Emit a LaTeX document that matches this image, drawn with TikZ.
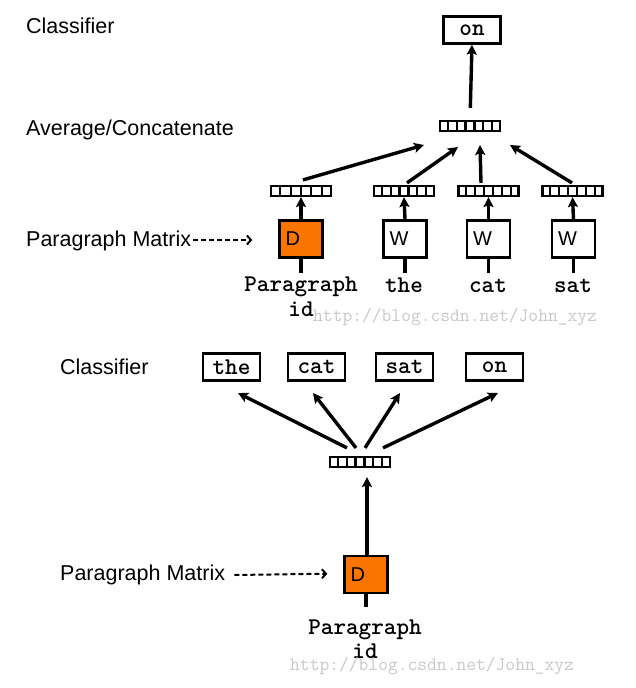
\documentclass[tikz,border=0pt]{standalone}
\usepackage{fontspec}
\setmainfont{Liberation Sans}
\usetikzlibrary{arrows.meta,calc}
\definecolor{dorange}{RGB}{250,116,0}
\definecolor{wmgray}{RGB}{200,200,200}
% vertical dividers inside a vector node: \celldiv{node}{dividers}{cells}
\newcommand\celldiv[3]{%
  \foreach \k in {1,...,#2}{%
    \draw[line width=2.2pt] ($(#1.south west)!\k/#3!(#1.south east)$) -- ($(#1.north west)!\k/#3!(#1.north east)$);}}
\begin{document}
\begin{tikzpicture}[x=1pt,y=-1pt,
  lbl/.style={font=\fontsize{21.5}{24}\selectfont, anchor=base west, inner sep=0},
  word/.style={font=\ttfamily\bfseries\fontsize{24}{26}\selectfont, inner sep=0, anchor=base},
  wordbox/.style={draw, line width=2.4pt, minimum width=57pt, minimum height=27pt, inner sep=0,
    font=\ttfamily\bfseries\fontsize{24}{26}\selectfont},
  mat/.style={draw, line width=2.4pt, minimum width=43pt, minimum height=37pt, inner xsep=6pt,
    text width=31pt, align=left, font=\fontsize{20}{22}\selectfont},
  vec/.style={draw, line width=2.2pt, minimum width=60pt, minimum height=10pt, inner sep=0},
  arr/.style={line width=3.4pt, -{Stealth[length=10pt,width=10pt,inset=2pt]}},
  stem/.style={line width=3.4pt},
  darr/.style={line width=2pt, dash pattern=on 5pt off 3pt, -{Straight Barb[length=4pt,width=9pt]}},
  wm/.style={font=\ttfamily\fontsize{19}{20}\selectfont, text=wmgray, inner sep=0, anchor=base west}
]
\useasboundingbox (0,0) rectangle (635,688);

% ---------- upper model: PV-DM ----------
\node[lbl] (cls1) at (26,33) {Classifier};
\node[lbl] (avgl) at (26,135) {Average/Concatenate};
\node[lbl] (pm1) at (26,246) {Paragraph Matrix};

\node[wordbox] (on1) at (472,30) {on};
\node[vec] (avg) at (470,126) {};
\celldiv{avg}{6}{7}

\node[vec] (pv) at (301,191) {};
\celldiv{pv}{5}{6}
\node[vec] (v1) at (404,191) {};
\celldiv{v1}{6}{7}
\node[vec] (v2) at (488.5,191) {};
\celldiv{v2}{6}{7}
\node[vec] (v3) at (572.5,191) {};
\celldiv{v3}{6}{7}

\node[mat, fill=dorange] (D1) at (301,239) {D};
\node[mat] (W1) at (405,239) {W};
\node[mat] (W2) at (488.5,239) {W};
\node[mat] (W3) at (573.5,239) {W};

\coordinate (s1) at (301,273);
\coordinate (s2) at (405,273);
\coordinate (s3) at (488.5,273);
\coordinate (s4) at (573.5,273);
\draw[stem] (D1.south) -- (s1);
\draw[stem] (W1.south) -- (s2);
\draw[stem] (W2.south) -- (s3);
\draw[stem] (W3.south) -- (s4);

\node[word] (par1) at (301,291) {Paragraph};
\node[word] (id1) at (301,316) {id};
\node[word] (the1) at (404,292) {the};
\node[word] (cat1) at (488,292) {cat};
\node[word] (sat1) at (573,292) {sat};

\draw[arr] (D1.north) -- (pv.south);
\draw[arr] (W1.north) -- (v1.south);
\draw[arr] (W2.north) -- (v2.south);
\draw[arr] (W3.north) -- (v3.south);

\coordinate (t1) at (424,145);
\coordinate (t2) at (458,147);
\coordinate (t3) at (480,145);
\coordinate (t4) at (510,145);
\draw[arr] ([xshift=2pt,yshift=5pt]pv.north) -- (t1);
\draw[arr] ([xshift=3pt,yshift=2pt]v1.north) -- (t2);
\draw[arr] ([xshift=-7.5pt,yshift=2pt]v2.north) -- (t3);
\draw[arr] ([xshift=-0.5pt,yshift=2pt]v3.north) -- (t4);
\draw[arr, shorten <=12pt] (avg.north) -- (on1.south);

\draw[darr, shorten >=26pt] ([xshift=2pt,yshift=6pt]pm1.base east) -- ([yshift=-1pt]D1.west);

\node[wm] (wm1) at (313,321) {http://blog.csdn.net/John\_xyz};

% ---------- lower model: PV-DBOW ----------
\node[lbl] (cls2) at (60,374) {Classifier};
\node[lbl] (pm2) at (60,580) {Paragraph Matrix};

\node[wordbox] (the2) at (231.5,367) {the};
\node[wordbox] (cat2) at (316.5,367) {cat};
\node[wordbox] (sat2) at (404.5,367) {sat};
\node[wordbox] (on2) at (494.5,367) {on};

\node[vec] (bv) at (360,462) {};
\celldiv{bv}{6}{7}

\node[mat, fill=dorange] (D2) at (366,574.5) {D};
\coordinate (s5) at (366,607);
\draw[stem] (D2.south) -- (s5);

\node[word] (par2) at (365,634) {Paragraph};
\node[word] (id2) at (365,658) {id};

\coordinate (b1) at (238,393);
\coordinate (b2) at (313,393);
\coordinate (b3) at (400,393);
\coordinate (b4) at (498,393);
\draw[arr] ([xshift=-13pt,yshift=8pt]bv.north) -- (b1);
\draw[arr] ([xshift=-4pt,yshift=8pt]bv.north) -- (b2);
\draw[arr] ([xshift=5pt,yshift=8pt]bv.north) -- (b3);
\draw[arr] ([xshift=23pt,yshift=8pt]bv.north) -- (b4);

\draw[arr, shorten >=9pt] ([xshift=1pt]D2.north) -- ([xshift=7pt]bv.south);

\draw[darr, shorten >=16pt] ([xshift=9pt,yshift=5pt]pm2.base east) -- ([yshift=1pt]D2.west);

\node[wm] (wm2) at (290,670) {http://blog.csdn.net/John\_xyz};
\end{tikzpicture}
\end{document}
